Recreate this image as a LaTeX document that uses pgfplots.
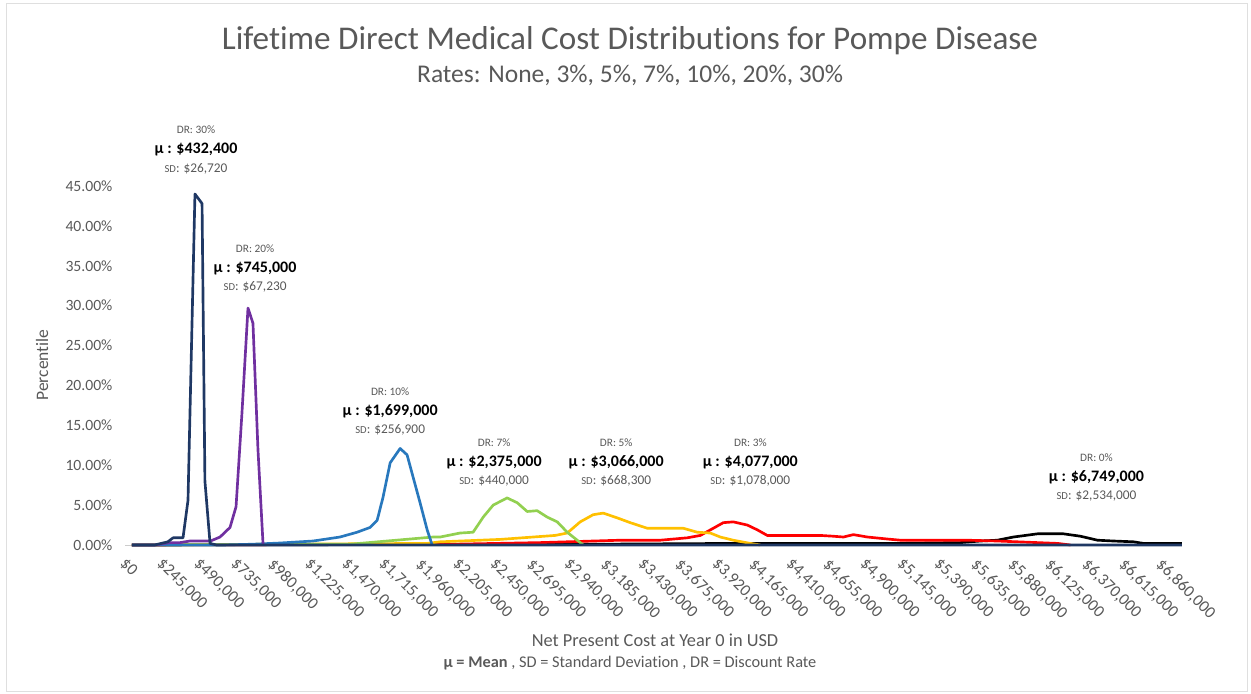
\documentclass[border=0pt]{standalone}
\usepackage{pgfplots}
\pgfplotsset{compat=1.18}
\usepackage{fontspec}
\setmainfont[RawFeature={-liga;-clig;-dlig}]{Carlito}

\definecolor{cNavy}{HTML}{1F3864}
\definecolor{cPurple}{HTML}{7030A0}
\definecolor{cBlue}{HTML}{2878BD}
\definecolor{cGreen}{HTML}{92D050}
\definecolor{cYellow}{HTML}{FFC000}
\definecolor{cRed}{HTML}{FF0000}
\definecolor{txt}{HTML}{595959}

\begin{document}
\begin{tikzpicture}[x=0.6pt,y=0.6pt]
\useasboundingbox (0,0) rectangle (1251,693);
\draw[gray!25] (6,2) rectangle (1247,690);

% titles
\node[txt,font=\fontsize{19.9}{22}\selectfont] at (630,652) {Lifetime Direct Medical Cost Distributions for Pompe Disease};
\node[txt,font=\fontsize{15.3}{17}\selectfont] at (630,618) {Rates: None, 3\%, 5\%, 7\%, 10\%, 20\%, 30\%};
\node[txt,font=\fontsize{10.5}{12}\selectfont,rotate=90] at (42,328) {Percentile};
\node[txt,font=\fontsize{11}{13}\selectfont] at (655,53) {Net Present Cost at Year 0 in USD};
\node[txt,font=\fontsize{9.8}{11}\selectfont] at (630,30) {\textbf{μ = Mean} , SD = Standard Deviation , DR = Discount Rate};

\begin{axis}[
    scale only axis,
    width=634.2pt,
    height=215.4pt,
    at={(75pt,88.8pt)},
    anchor=south west,
    xmin=-46000, xmax=6950000,
    ymin=0, ymax=45,
    clip=false,
    scaled x ticks=false,
    axis y line*=left,
    axis x line*=bottom,
    y axis line style={draw=none},
    x axis line style={draw=gray!40},
    ytick={0,5,...,45},
    yticklabel={\pgfmathprintnumber[fixed,fixed zerofill,precision=2]{\tick}\%},
    /pgf/number format/assume math mode=true,
    yticklabel style={txt,font=\fontsize{9.4}{11}\selectfont,xshift=-4pt},
    ytick style={draw=none},
    xtick style={draw=none},
    xtick={0,245000,490000,735000,980000,1225000,1470000,1715000,1960000,2205000,
           2450000,2695000,2940000,3185000,3430000,3675000,3920000,4165000,4410000,
           4655000,4900000,5145000,5390000,5635000,5880000,6125000,6370000,6615000,6860000},
    xticklabels={{\$0},{\$245,000},{\$490,000},{\$735,000},{\$980,000},{\$1,225,000},
           {\$1,470,000},{\$1,715,000},{\$1,960,000},{\$2,205,000},{\$2,450,000},
           {\$2,695,000},{\$2,940,000},{\$3,185,000},{\$3,430,000},{\$3,675,000},
           {\$3,920,000},{\$4,165,000},{\$4,410,000},{\$4,655,000},{\$4,900,000},
           {\$5,145,000},{\$5,390,000},{\$5,635,000},{\$5,880,000},{\$6,125,000},
           {\$6,370,000},{\$6,615,000},{\$6,860,000}},
    xticklabel style={txt,font=\fontsize{10}{12}\selectfont,rotate=-45,anchor=north west,inner sep=1pt,yshift=-6pt,xshift=2pt},
    every axis plot/.append style={line width=1.6pt,line join=round}
]

% DR 0%
\addplot[black] coordinates {
 (0,0) (3099000,0.1) (3993000,0.2) (5086000,0.2) (5483000,0.3) (5616000,0.5)
 (5728000,0.6) (5834000,1.0) (5993000,1.4) (6166000,1.4) (6278000,1.1)
 (6391000,0.6) (6497000,0.5) (6629000,0.4) (6695000,0.2) (6950000,0.2)
};
% DR 3%
\addplot[cRed] coordinates {
 (0,0) (2126000,0.1) (2702000,0.3) (3232000,0.6) (3497000,0.6) (3675000,0.9)
 (3762000,1.2) (3848000,2.1) (3914000,2.8) (3980000,2.9) (4073000,2.5)
 (4139000,1.9) (4205000,1.2) (4556000,1.2) (4642000,1.1) (4709000,1.0)
 (4775000,1.3) (4868000,1.0) (5000000,0.75) (5086000,0.6) (5530000,0.6)
 (5728000,0.5) (6126000,0.2) (6212000,0)
};
% DR 5%
\addplot[cYellow] coordinates {
 (0,0) (1954000,0.2) (2040000,0.4) (2437000,0.7) (2801000,1.2) (2881000,1.5)
 (2967000,2.9) (3053000,3.8) (3119000,4.0) (3212000,3.4) (3298000,2.8)
 (3411000,2.1) (3649000,2.1) (3742000,1.6) (3828000,1.5) (3894000,1.0)
 (3980000,0.6) (4093000,0.2) (4159000,0)
};
% DR 7%
\addplot[cGreen] coordinates {
 (0,0) (1444000,0.1) (1993000,1.0) (2040000,1.0) (2172000,1.5) (2258000,1.6)
 (2325000,3.5) (2391000,5.0) (2483000,5.9) (2550000,5.3) (2616000,4.2)
 (2682000,4.3) (2748000,3.5) (2815000,2.9) (2881000,1.6) (2947000,0.6)
 (2987000,0)
};
% DR 10%
\addplot[cBlue] coordinates {
 (0,0) (600000,0) (800000,0.1) (980000,0.25) (1199000,0.5) (1377000,1.0)
 (1490000,1.6) (1576000,2.2) (1623000,3.1) (1662000,6.0) (1709000,10.3)
 (1775000,12.1) (1821000,11.3) (1861000,8.5) (1907000,5.3) (1954000,1.9)
 (1987000,0)
};
% DR 20%
\addplot[cPurple] coordinates {
 (0,0) (150000,0) (250000,0.3) (318000,0.3) (384000,0.5) (520000,0.5)
 (583000,1.0) (649000,2.2) (689000,4.8) (728000,16.5) (768000,29.7)
 (801000,27.8) (834000,12.0) (868000,0)
};
% DR 30%
\addplot[cNavy] coordinates {
 (0,0) (150000,0) (238000,0.4) (272000,0.9) (338000,0.9) (371000,5.6)
 (417000,44.0) (464000,42.8) (483000,8.0) (517000,0.2) (560000,0)
 (6950000,0)
};

% annotations
\def\ann#1#2#3#4#5{%
  \node[gray!70!black,font=\fontsize{6.8}{7}\selectfont] at (axis cs:#1,#2) {DR: #3};
  \node[black,font=\fontsize{9.6}{11}\selectfont\bfseries] at (axis cs:#1,#2-2.4) {μ : #4};
  \node[txt,font=\fontsize{8}{9}\selectfont] at (axis cs:#1,#2-4.8) {\scalebox{0.8}{SD}: #5};
}
\ann{424000}{52.0}{30\%}{\$432,400}{\$26,720}
\ann{815000}{37.1}{20\%}{\$745,000}{\$67,230}
\ann{1709000}{19.2}{10\%}{\$1,699,000}{\$256,900}
\ann{2397000}{12.8}{7\%}{\$2,375,000}{\$440,000}
\ann{3205000}{12.8}{5\%}{\$3,066,000}{\$668,300}
\ann{4093000}{12.8}{3\%}{\$4,077,000}{\$1,078,000}
\ann{6384000}{10.9}{0\%}{\$6,749,000}{\$2,534,000}
\end{axis}
\end{tikzpicture}
\end{document}
